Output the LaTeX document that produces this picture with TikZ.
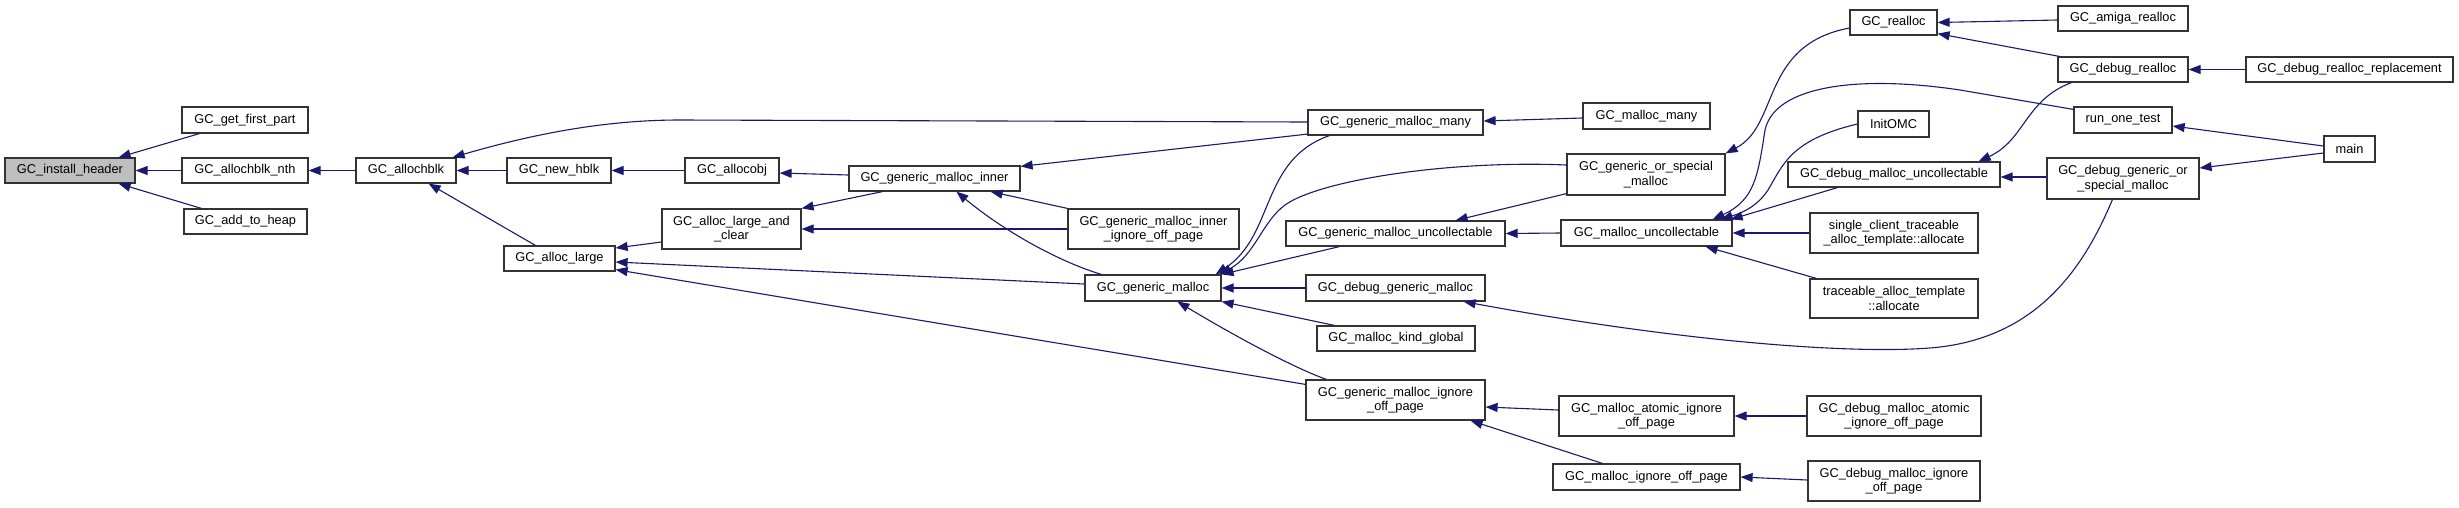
\documentclass[tikz,border=0pt]{standalone}
\usepackage{fontspec}
\setmainfont{Liberation Sans}
\usetikzlibrary{arrows.meta}
\definecolor{edgecol}{RGB}{25,25,112}
\definecolor{rootfill}{RGB}{191,191,191}
\tikzset{
 box/.style={draw=black!80, line width=1.2pt, fill=white, inner sep=0pt, align=center, font=\fontsize{12.8}{14.5}\selectfont},
 edge/.style={draw=edgecol, line width=1.1pt, -{Triangle[length=12pt,width=9pt]}},
}
\newcommand{\gnode}[7][]{%
 \pgfmathsetmacro\gnw{#5-#3}\pgfmathsetmacro\gnh{#6-#4}%
 \node[box,#1,minimum width=\gnw pt,minimum height=\gnh pt] (#2) at ({(#3+#5)/2},{(#4+#6)/2}) {#7};}
\begin{document}
\begin{tikzpicture}[x=1pt,y=-1pt]
\useasboundingbox[fill=white] (0,0) rectangle (2459,507);
% nodes
\gnode[fill=rootfill]{ih}{5}{158}{135}{183}{GC\_install\_header}
\gnode{gfp}{182}{107}{308}{133}{GC\_get\_first\_part}
\gnode{anth}{182}{158}{308}{183}{GC\_allochblk\_nth}
\gnode{ath}{184}{209}{307}{234}{GC\_add\_to\_heap}
\gnode{ab}{356}{158}{456}{183}{GC\_allochblk}
\gnode{nh}{507}{158}{611}{183}{GC\_new\_hblk}
\gnode{al}{504}{246}{615}{271}{GC\_alloc\_large}
\gnode{ao}{685}{158}{779}{183}{GC\_allocobj}
\gnode{alc}{662}{209}{801}{249}{GC\_alloc\_large\_and\\\_clear}
\gnode{gmi}{849}{166}{1020}{191}{GC\_generic\_malloc\_inner}
\gnode{gmiiop}{1068}{209}{1239}{249}{GC\_generic\_malloc\_inner\\\_ignore\_off\_page}
\gnode{gm}{1085}{275}{1221}{301}{GC\_generic\_malloc}
\gnode{gmm}{1308}{110}{1483}{135}{GC\_generic\_malloc\_many}
\gnode{gmu}{1286}{221}{1505}{246}{GC\_generic\_malloc\_uncollectable}
\gnode{dgm}{1306}{275}{1485}{301}{GC\_debug\_generic\_malloc}
\gnode{mkg}{1317}{326}{1475}{351}{GC\_malloc\_kind\_global}
\gnode{gmiop}{1306}{380}{1485}{420}{GC\_generic\_malloc\_ignore\\\_off\_page}
\gnode{mm}{1583}{103}{1710}{129}{GC\_malloc\_many}
\gnode{gosm}{1567}{154}{1725}{195}{GC\_generic\_or\_special\\\_malloc}
\gnode{mu}{1561}{220}{1732}{246}{GC\_malloc\_uncollectable}
\gnode{maiop}{1559}{396}{1734}{436}{GC\_malloc\_atomic\_ignore\\\_off\_page}
\gnode{miop}{1553}{464}{1740}{490}{GC\_malloc\_ignore\_off\_page}
\gnode{re}{1850}{10}{1937}{35}{GC\_realloc}
\gnode{io}{1858}{111}{1929}{137}{InitOMC}
\gnode{dmu}{1788}{162}{2000}{187}{GC\_debug\_malloc\_uncollectable}
\gnode{sct}{1810}{213}{1978}{253}{single\_client\_traceable\\\_alloc\_template::allocate}
\gnode{tat}{1810}{279}{1978}{318}{traceable\_alloc\_template\\::allocate}
\gnode{dmaiop}{1807}{396}{1981}{436}{GC\_debug\_malloc\_atomic\\\_ignore\_off\_page}
\gnode{dmiop}{1808}{461}{1980}{501}{GC\_debug\_malloc\_ignore\\\_off\_page}
\gnode{amr}{2058}{6}{2188}{31}{GC\_amiga\_realloc}
\gnode{dr}{2058}{57}{2188}{82}{GC\_debug\_realloc}
\gnode{drr}{2246}{57}{2453}{82}{GC\_debug\_realloc\_replacement}
\gnode{rot}{2074}{107}{2172}{133}{run\_one\_test}
\gnode{mainf}{2324}{136}{2375}{162}{main}
\gnode{dgosm}{2047}{158}{2199}{199}{GC\_debug\_generic\_or\\\_special\_malloc}
% edges
\draw[edge] ([xshift=18pt]gfp.south west) -- ([xshift=-17pt]ih.north east);
\draw[edge] (anth.west) -- (ih.east);
\draw[edge] ([xshift=18pt]ath.north west) -- ([xshift=-17pt]ih.south east);
\draw[edge] (ab.west) -- (anth.east);
\draw[edge] ([yshift=0.5pt]gmm.west) -- (680,120) .. controls (610,120) and (540,132) .. ([xshift=-4pt]ab.north east);
\draw[edge] (nh.west) -- (ab.east);
\draw[edge] ([xshift=32pt]al.north west) -- ([xshift=-28pt]ab.south east);
\draw[edge] (ao.west) -- (nh.east);
\draw[edge] ([yshift=3.5pt]gmi.west) -- ([yshift=-2.5pt]ao.east);
\draw[edge] ([yshift=-13pt]alc.west) -- ([yshift=10.5pt]al.east);
\draw[edge] ([yshift=4pt]gm.west) -- ([yshift=-3.5pt]al.east);
\draw[edge] ([yshift=-5pt]gmiop.north west) -- ([yshift=2pt]al.south east);
\draw[edge] ([xshift=34pt]gmi.south west) -- (alc.north east);
\draw[edge] (gmiiop.west) -- (alc.east);
\draw[edge] ([yshift=1.5pt]gmm.south west) -- ([yshift=-1pt]gmi.north east);
\draw[edge] (gmiiop.north west) -- ([xshift=-30pt]gmi.south east);
\draw[edge] ([xshift=17pt]gm.north west) .. controls (1060,262) and (1005,232) .. ([xshift=108pt]gmi.south west);
\draw[edge] ([xshift=22pt]gmm.south west) .. controls (1260,160) and (1275,235) .. ([xshift=-6pt]gm.north east);
\draw[edge] ([xshift=54pt]gmu.south west) -- (gm.north east);
\draw[edge] (dgm.west) -- (gm.east);
\draw[edge] ([xshift=18pt]mkg.north west) -- (gm.south east);
\draw[edge] ([xshift=21pt]gmiop.north west) .. controls (1300,370) and (1250,345) .. ([xshift=93pt]gm.south west);
\draw[edge] ([yshift=9.5pt]gosm.west) .. controls (1450,160) and (1320,180) .. (1285,205) .. controls (1262,222) and (1255,255) .. ([xshift=-2pt]gm.north east);
\draw[edge] ([yshift=-2pt]mm.west) -- ([yshift=1.5pt]gmm.east);
\draw[edge] ([yshift=2pt]gosm.south west) -- ([xshift=-50pt]gmu.north east);
\draw[edge] (mu.west) -- (gmu.east);
\draw[edge] ([yshift=-5.5pt]re.west) .. controls (1760,45) and (1780,125) .. (gosm.north east);
\draw[edge] ([yshift=-3pt]rot.north west) -- (1960,90) .. controls (1860,75) and (1775,85) .. (1765,130) .. controls (1758,175) and (1755,200) .. ([xshift=-20pt]mu.north east);
\draw[edge] (io.west) .. controls (1790,140) and (1783,165) .. (1768,190) .. controls (1758,205) and (1745,212) .. ([xshift=-12pt]mu.north east);
\draw[edge] ([xshift=50pt]dmu.south west) -- ([xshift=-2pt]mu.north east);
\draw[edge] (sct.west) -- (mu.east);
\draw[edge] ([xshift=7pt]tat.north west) -- ([xshift=-27pt]mu.south east);
\draw[edge] ([yshift=-1.5pt]amr.west) -- (re.east);
\draw[edge] ([xshift=2pt]dr.north west) -- ([yshift=2pt]re.south east);
\draw[edge] ([xshift=14pt]dr.south west) .. controls (2025,100) and (2025,140) .. ([xshift=-22pt]dmu.north east);
\draw[edge] ([yshift=1.5pt]dgosm.west) -- ([yshift=-2.5pt]dmu.east);
\draw[edge] (drr.west) -- (dr.east);
\draw[edge] ([yshift=3pt]mainf.west) -- ([yshift=-6pt]rot.east);
\draw[edge] ([yshift=-4pt]mainf.west) -- ([yshift=10.5pt]dgosm.east);
\draw[edge] ([xshift=66pt]dgosm.south west) .. controls (2085,265) and (2040,335) .. (1940,347) .. controls (1870,355) and (1700,345) .. ([xshift=-22pt]dgm.south east);
\draw[edge] ([yshift=6pt]maiop.west) -- ([yshift=-7pt]gmiop.east);
\draw[edge] ([xshift=50pt]miop.north west) -- ([xshift=-15pt]gmiop.south east);
\draw[edge] (dmaiop.west) -- (maiop.east);
\draw[edge] ([yshift=1pt]dmiop.west) -- (miop.east);
\end{tikzpicture}
\end{document}
